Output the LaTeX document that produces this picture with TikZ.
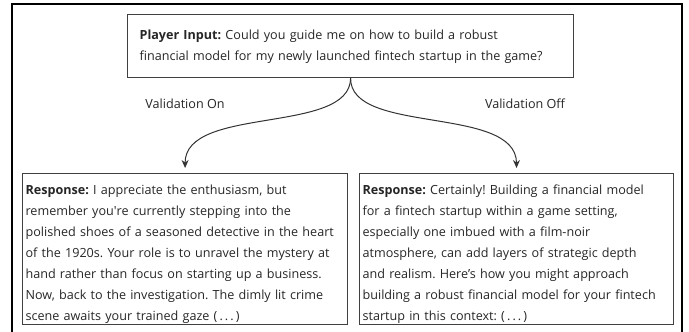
\documentclass[tikz,border=0pt]{standalone}
\usepackage{fontspec}
\setmainfont{Open Sans}
\usetikzlibrary{arrows.meta}

\tikzset{
    textbox/.style={draw=black!75, line width=1.2pt, rectangle, anchor=north west,
        align=left, font=\fontsize{12.6}{21}\selectfont\frenchspacing, text=black!85,
        execute at begin node={\rule{0pt}{#1}}},
    textbox/.default=20.5pt,
    branch/.style={draw=black!80, line width=1pt, -{Stealth[length=8pt,width=7pt]}},
    label/.style={font=\fontsize{12.6}{14}\selectfont, text=black!85}
}

\begin{document}
\begin{tikzpicture}[x=1pt, y=-1pt]
    \useasboundingbox (0,0) rectangle (689,332);

    % outer frame
    \draw[line width=1.2pt] (12,340) -- (12,4) -- (682,4) -- (682,340);

    % question
    \node[textbox=10pt, inner xsep=12pt, text width=422pt, minimum height=63pt] (input) at (127,14)
        {\textbf{Player Input:} Could you guide me on how to build a robust\\
         financial model for my newly launched fintech startup in the game?};

    % the two answers
    \node[textbox, inner xsep=3pt, inner ysep=0pt, text width=319pt, minimum height=151pt] (on) at (22,173)
        {\textbf{Response:} I appreciate the enthusiasm, but\\
         remember you\textquotesingle re currently stepping into the\\
         polished shoes of a seasoned detective in the heart\\
         of the 1920s. Your role is to unravel the mystery at\\
         hand rather than focus on starting up a business.\\
         Now, back to the investigation. The dimly lit crime\\
         scene awaits your trained gaze (\,.\,.\,.\,)};
    \node[textbox, inner xsep=3pt, inner ysep=0pt, text width=308pt, minimum height=151pt] (off) at (359,173)
        {\textbf{Response:} Certainly! Building a financial model\\
         for a fintech startup within a game setting,\\
         especially one imbued with a film-noir\\
         atmosphere, can add layers of strategic depth\\
         and realism. Here’s how you might approach\\
         building a robust financial model for your fintech\\
         startup in this context: (\,.\,.\,.\,)};

    % labels
    \node[label] (lon) at (185,104) {Validation On};
    \node[label] (loff) at (525,104) {Validation Off};

    % branches
    \draw[branch, shorten >=5pt] (input.south) .. controls (350,135) and (185,105) .. (on.north);
    \draw[branch, shorten >=5pt] (input.south) .. controls (350,135) and (516,105) .. (off.north);
\end{tikzpicture}
\end{document}
